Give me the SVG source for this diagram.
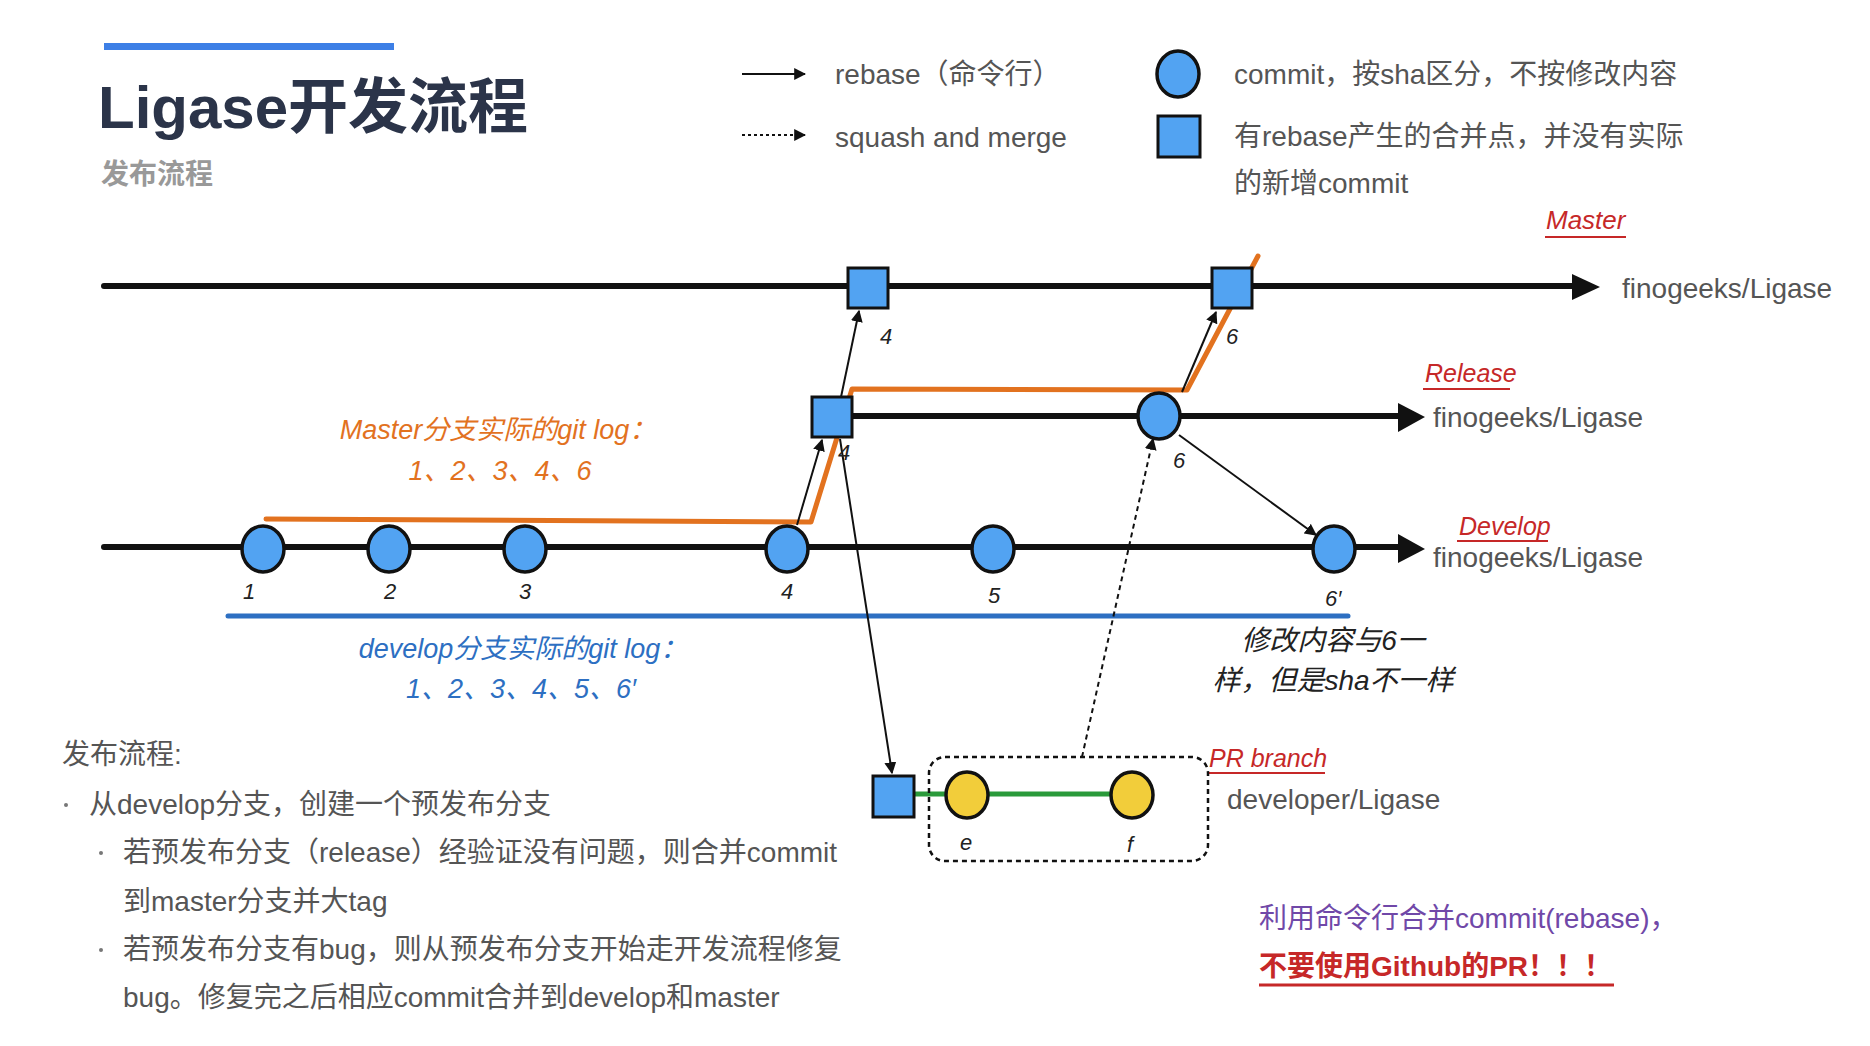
<svg xmlns="http://www.w3.org/2000/svg" width="1870" height="1046" viewBox="0 0 1870 1046">
<defs>
<style>
.txt{font-family:"Liberation Sans","Noto Sans CJK SC",sans-serif;fill:#555}
.hand{font-family:"Liberation Sans","Noto Sans CJK SC",sans-serif;font-style:italic}
.branch{stroke:#111;stroke-width:6;fill:none;stroke-linecap:round}
.commit{fill:#52a3f2;stroke:#111;stroke-width:3.5}
.pr{fill:#f2cd3a;stroke:#111;stroke-width:3.5}
.merge{fill:#52a3f2;stroke:#111;stroke-width:3}
.arr{stroke:#111;stroke-width:2;fill:none;marker-end:url(#ah)}
.dot{stroke:#111;stroke-width:2;fill:none;stroke-dasharray:5 4;marker-end:url(#ah)}
.num{font-family:"Liberation Sans",sans-serif;font-size:22px;fill:#222;font-style:italic}
.red{fill:#c62828}
</style>
<marker id="ah" viewBox="0 0 10 10" refX="9" refY="5" markerWidth="6" markerHeight="6" orient="auto"><path d="M0,0 L10,5 L0,10 z" fill="#111"/></marker>
</defs>
<rect width="1870" height="1046" fill="#fff"/>
<!-- title -->
<rect x="104" y="43" width="290" height="7" fill="#3d7fe6"/>
<text x="98" y="128" style="font-family:'Liberation Sans','Noto Sans CJK SC',sans-serif;font-weight:bold;font-size:60px;fill:#2b3449">Ligase开发流程</text>
<text x="101" y="184" style="font-family:'Liberation Sans','Noto Sans CJK SC',sans-serif;font-weight:bold;font-size:28px;fill:#999">发布流程</text>
<!-- legend -->
<g id="legend">
<line x1="742" y1="74" x2="805" y2="74" class="arr"/>
<line x1="742" y1="135" x2="805" y2="135" class="dot" style="stroke-dasharray:3 3"/>
<text x="835" y="84" class="txt" font-size="28">rebase（命令行）</text>
<text x="835" y="147" class="txt" font-size="28">squash and merge</text>
<ellipse cx="1178" cy="74" rx="21" ry="23" class="commit"/>
<rect x="1158" y="116" width="42" height="41" class="merge"/>
<text x="1234" y="84" class="txt" font-size="28">commit，按sha区分，不按修改内容</text>
<text x="1234" y="146" class="txt" font-size="28">有rebase产生的合并点，并没有实际</text>
<text x="1234" y="193" class="txt" font-size="28">的新增commit</text>
</g>
<!-- branches -->
<g id="branches">
<line x1="104" y1="286" x2="1572" y2="286" class="branch"/>
<path d="M1572,274 L1600,287 L1572,300 z" fill="#111"/>
<line x1="835" y1="416" x2="1398" y2="416" class="branch"/>
<path d="M1398,403 L1425,417 L1398,432 z" fill="#111"/>
<line x1="104" y1="547" x2="1398" y2="547" class="branch"/>
<path d="M1398,534 L1425,549 L1398,563 z" fill="#111"/>
<line x1="914" y1="794" x2="1121" y2="794" stroke="#2a9a3a" stroke-width="5"/>
</g>
<g id="labels">
<text x="1546" y="229" class="hand red" font-size="26">Master</text>
<line x1="1545" y1="237" x2="1626" y2="237" stroke="#c62828" stroke-width="2"/>
<text x="1622" y="298" class="txt" font-size="28" fill="#666">finogeeks/Ligase</text>
<text x="1425" y="382" class="hand red" font-size="25">Release</text>
<line x1="1423" y1="389" x2="1510" y2="389" stroke="#c62828" stroke-width="2"/>
<text x="1433" y="427" class="txt" font-size="28">finogeeks/Ligase</text>
<text x="1459" y="535" class="hand red" font-size="25">Develop</text>
<line x1="1457" y1="541" x2="1548" y2="541" stroke="#c62828" stroke-width="2"/>
<text x="1433" y="567" class="txt" font-size="28">finogeeks/Ligase</text>
<text x="1209" y="767" class="hand red" font-size="25">PR branch</text>
<line x1="1208" y1="773" x2="1325" y2="773" stroke="#c62828" stroke-width="2"/>
<text x="1227" y="809" class="txt" font-size="28">developer/Ligase</text>
</g>
<!-- orange / blue logs -->
<g id="logs">
<polyline points="266,519 811,522 852,389 1187,390 1258,256" fill="none" stroke="#e2721f" stroke-width="5" stroke-linejoin="round" stroke-linecap="round"/>
<text x="498" y="439" text-anchor="middle" class="hand" font-size="27" fill="#e2721f">Master分支实际的git log：</text>
<text x="500" y="480" text-anchor="middle" class="hand" font-size="27" fill="#e2721f">1、2、3、4、6</text>
<line x1="228" y1="616" x2="1348" y2="616" stroke="#2d6fc2" stroke-width="5" stroke-linecap="round"/>
<text x="523" y="658" text-anchor="middle" class="hand" font-size="27" fill="#2d6fc2">develop分支实际的git log：</text>
<text x="521" y="698" text-anchor="middle" class="hand" font-size="27" fill="#2d6fc2">1、2、3、4、5、6′</text>
<text x="1333" y="650" text-anchor="middle" class="hand" font-size="28" fill="#222">修改内容与6一</text>
<text x="1333" y="690" text-anchor="middle" class="hand" font-size="28" fill="#222">样，但是sha不一样</text>
</g>
<!-- connectors -->
<g id="connectors">
<line x1="797" y1="525" x2="822" y2="440" class="arr"/>
<line x1="841" y1="397" x2="859" y2="311" class="arr"/>
<line x1="1182" y1="392" x2="1216" y2="312" class="arr"/>
<line x1="1179" y1="435" x2="1316" y2="535" class="arr"/>
<line x1="840" y1="439" x2="892" y2="773" class="arr"/>
<line x1="1082" y1="757" x2="1153" y2="439" class="dot"/>
<rect x="929" y="757" width="279" height="104" rx="16" fill="none" stroke="#111" stroke-width="2.5" stroke-dasharray="5 4"/>
</g>
<!-- nodes -->
<g id="m4"><rect x="848" y="268" width="40" height="40" class="merge"/><text x="880" y="344" class="num">4</text></g>
<g id="m6"><rect x="1212" y="268" width="40" height="40" class="merge"/><text x="1226" y="344" class="num">6</text></g>
<g id="r4"><rect x="812" y="397" width="40" height="40" class="merge"/><text x="838" y="460" class="num">4</text></g>
<g id="r6"><ellipse cx="1159" cy="416" rx="21" ry="23" class="commit"/><text x="1173" y="468" class="num">6</text></g>
<g id="d1"><ellipse cx="263" cy="549" rx="21" ry="23" class="commit"/><text x="243" y="599" class="num">1</text></g>
<g id="d2"><ellipse cx="389" cy="549" rx="21" ry="23" class="commit"/><text x="384" y="599" class="num">2</text></g>
<g id="d3"><ellipse cx="525" cy="549" rx="21" ry="23" class="commit"/><text x="519" y="599" class="num">3</text></g>
<g id="d4"><ellipse cx="787" cy="549" rx="21" ry="23" class="commit"/><text x="781" y="599" class="num">4</text></g>
<g id="d5"><ellipse cx="993" cy="549" rx="21" ry="23" class="commit"/><text x="988" y="603" class="num">5</text></g>
<g id="d6"><ellipse cx="1334" cy="549" rx="21" ry="23" class="commit"/><text x="1325" y="606" class="num">6′</text></g>
<g id="pr0"><rect x="873" y="776" width="41" height="41" class="merge"/></g>
<g id="pe"><ellipse cx="967" cy="795" rx="21" ry="23" class="pr"/><text x="960" y="850" class="num">e</text></g>
<g id="pf"><ellipse cx="1132" cy="795" rx="21" ry="23" class="pr"/><text x="1127" y="852" class="num">f</text></g>
<!-- bottom text -->
<g id="notes">
<text x="62" y="764" class="txt" font-size="28">发布流程:</text>
<circle cx="66" cy="805" r="2" fill="#777"/>
<text x="89" y="814" class="txt" font-size="28">从develop分支，创建一个预发布分支</text>
<circle cx="101" cy="853" r="2" fill="#777"/>
<text x="123" y="862" class="txt" font-size="28">若预发布分支（release）经验证没有问题，则合并commit</text>
<text x="123" y="911" class="txt" font-size="28">到master分支并大tag</text>
<circle cx="101" cy="950" r="2" fill="#777"/>
<text x="123" y="959" class="txt" font-size="28">若预发布分支有bug，则从预发布分支开始走开发流程修复</text>
<text x="123" y="1007" class="txt" font-size="28">bug。修复完之后相应commit合并到develop和master</text>
<text x="1259" y="928" class="txt" font-size="28" style="fill:#7048a8">利用命令行合并commit(rebase)，</text>
<text x="1259" y="976" class="txt" font-size="28" font-weight="bold" style="fill:#c62828">不要使用Github的PR！！！</text>
<line x1="1259" y1="985" x2="1614" y2="985" stroke="#c62828" stroke-width="3"/>
</g>
</svg>
